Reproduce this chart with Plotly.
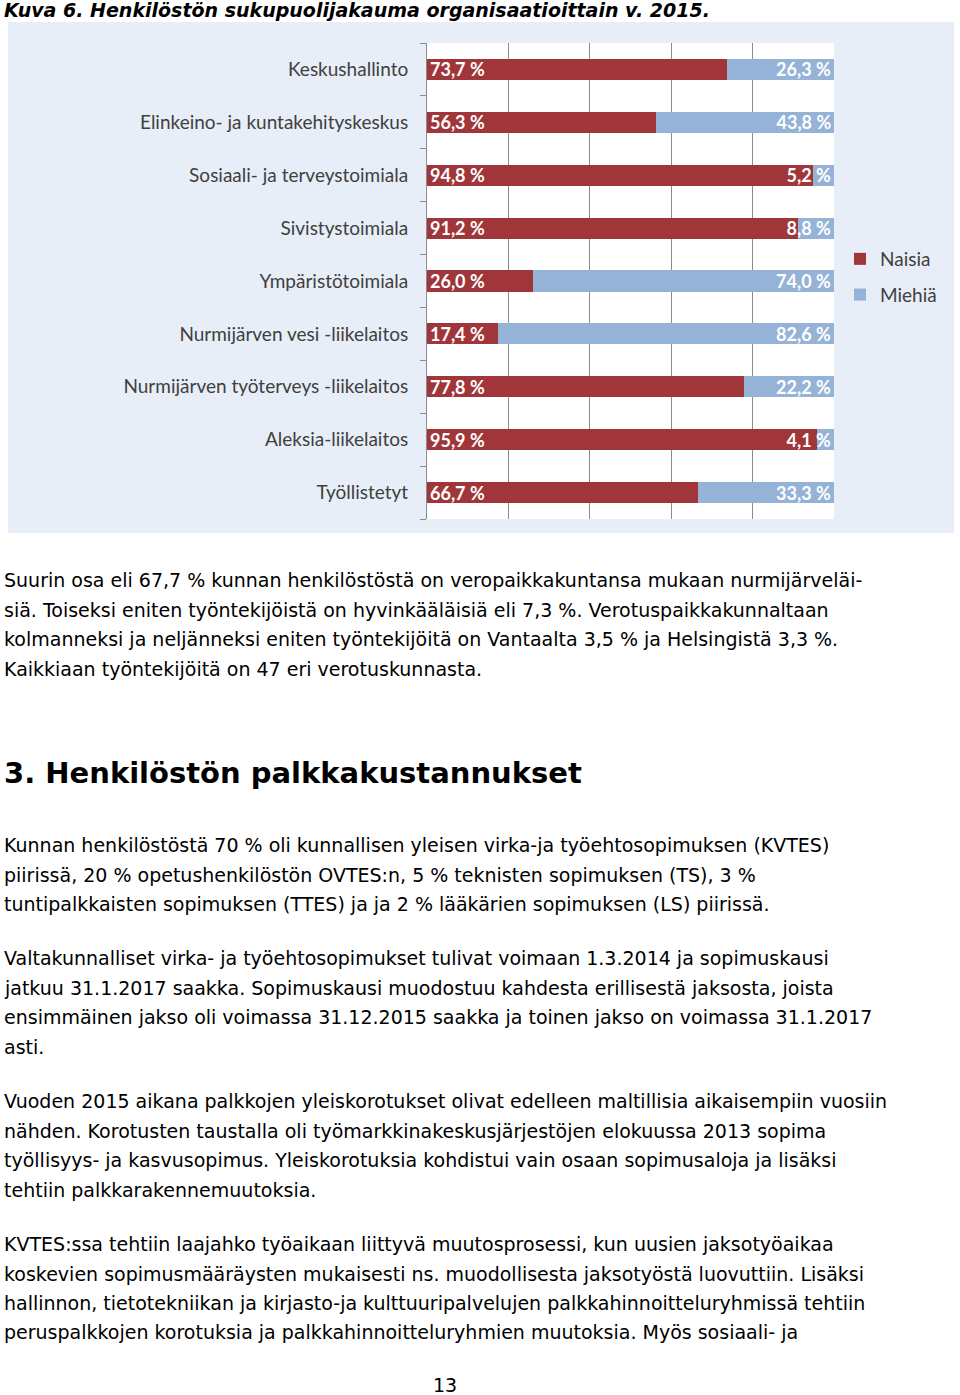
import plotly.graph_objects as go

categories = [
    "Keskushallinto",
    "Elinkeino- ja kuntakehityskeskus",
    "Sosiaali- ja terveystoimiala",
    "Sivistystoimiala",
    "Ympäristötoimiala",
    "Nurmijärven vesi -liikelaitos",
    "Nurmijärven työterveys -liikelaitos",
    "Aleksia-liikelaitos",
    "Työllistetyt",
]
naisia = [73.7, 56.3, 94.8, 91.2, 26.0, 17.4, 77.8, 95.9, 66.7]
miehia = [26.3, 43.8, 5.2, 8.8, 74.0, 82.6, 22.2, 4.1, 33.3]
x_ticks = [0, 20, 40, 60, 80, 100]

title_text = "Kuva 6. Henkilöstön sukupuolijakauma organisaatioittain v. 2015."
para1 = [
    "Suurin osa eli 67,7 % kunnan henkilöstöstä on veropaikkakuntansa mukaan nurmijärveläi-",
    "siä. Toiseksi eniten työntekijöistä on hyvinkääläisiä eli 7,3 %. Verotuspaikkakunnaltaan",
    "kolmanneksi ja neljänneksi eniten työntekijöitä on Vantaalta 3,5 % ja Helsingistä 3,3 %.",
    "Kaikkiaan työntekijöitä on 47 eri verotuskunnasta.",
]
heading = "3. Henkilöstön palkkakustannukset"
para2 = [
    "Kunnan henkilöstöstä 70 % oli kunnallisen yleisen virka-ja työehtosopimuksen (KVTES)",
    "piirissä, 20 % opetushenkilöstön OVTES:n, 5 % teknisten sopimuksen (TS), 3 %",
    "tuntipalkkaisten sopimuksen (TTES) ja ja 2 % lääkärien sopimuksen (LS) piirissä.",
]
para3 = [
    "Valtakunnalliset virka- ja työehtosopimukset tulivat voimaan 1.3.2014 ja sopimuskausi",
    "jatkuu 31.1.2017 saakka. Sopimuskausi muodostuu kahdesta erillisestä jaksosta, joista",
    "ensimmäinen jakso oli voimassa 31.12.2015 saakka ja toinen jakso on voimassa 31.1.2017",
    "asti.",
]
para4 = [
    "Vuoden 2015 aikana palkkojen yleiskorotukset olivat edelleen maltillisia aikaisempiin vuosiin",
    "nähden. Korotusten taustalla oli työmarkkinakeskusjärjestöjen elokuussa 2013 sopima",
    "työllisyys- ja kasvusopimus. Yleiskorotuksia kohdistui vain osaan sopimusaloja ja lisäksi",
    "tehtiin palkkarakennemuutoksia.",
]
para5 = [
    "KVTES:ssa tehtiin laajahko työaikaan liittyvä muutosprosessi, kun uusien jaksotyöaikaa",
    "koskevien sopimusmääräysten mukaisesti ns. muodollisesta jaksotyöstä luovuttiin. Lisäksi",
    "hallinnon, tietotekniikan ja kirjasto-ja kulttuuripalvelujen palkkahinnoitteluryhmissä tehtiin",
    "peruspalkkojen korotuksia ja palkkahinnoitteluryhmien muutoksia. Myös sosiaali- ja",
]
page_number = "13"

W, H = 960, 1395
PL, PR, PT, PB = 427, 834, 43, 519  # plot area in page pixels


def px(xp):
    return (xp - PL) / (PR - PL)


def py(yp):
    return (PB - yp) / (PB - PT)


def fmt(v):
    return f"{v:.1f}".replace(".", ",") + " %"


RED = "#A0363A"
BLUE = "#95B3D7"
LABEL_FONT = "Lato"

fig = go.Figure()
fig.add_trace(go.Bar(
    y=categories, x=naisia, orientation="h", name="Naisia",
    marker=dict(color=RED, line=dict(width=0)), width=0.4,
    text=[fmt(v) for v in naisia], textposition="inside",
    insidetextanchor="start", textangle=0, constraintext="none",
    textfont=dict(family=LABEL_FONT, size=18, color="white", weight="bold"),
    legendgroup="a", hoverinfo="skip",
))
fig.add_trace(go.Bar(
    y=categories, x=miehia, orientation="h", name="Miehiä",
    marker=dict(color=BLUE, line=dict(width=0)), width=0.4,
    text=[fmt(v) for v in miehia], textposition="inside",
    insidetextanchor="end", textangle=0, constraintext="none",
    textfont=dict(family=LABEL_FONT, size=18, color="white", weight="bold"),
    legendgroup="b", hoverinfo="skip",
))
fig.add_trace(go.Scatter(x=[None], y=[None], yaxis="y2", showlegend=False, hoverinfo="skip"))

n = len(categories)
fig.update_layout(
    width=W, height=H,
    margin=dict(l=PL, r=W - PR, t=PT, b=H - PB),
    paper_bgcolor="white", plot_bgcolor="white",
    barmode="stack",
    xaxis=dict(range=[0, 100], tickvals=x_ticks, showticklabels=False,
               showgrid=True, gridcolor="#8C8C8C", gridwidth=1, zeroline=False,
               showline=False, ticks=""),
    yaxis=dict(autorange="reversed", showline=True, linecolor="#8C8C8C", linewidth=1,
               ticks="", showgrid=False, ticklabelstandoff=14,
               tickfont=dict(family=LABEL_FONT, size=19, color="#404040")),
    yaxis2=dict(overlaying="y", side="left", range=[n - 0.5, -0.5],
                tickvals=[i - 0.5 for i in range(n + 1)], showticklabels=False,
                ticks="outside", ticklen=6, tickcolor="#8C8C8C", showgrid=False,
                zeroline=False, showline=False),
    legend=dict(x=px(840), y=py(240), xanchor="left", yanchor="top",
                bgcolor="rgba(0,0,0,0)", traceorder="grouped", tracegroupgap=8,
                font=dict(family=LABEL_FONT, size=19, color="#404040"),
                itemwidth=30),
    showlegend=True,
    shapes=[
        dict(type="rect", xref="paper", yref="paper", x0=px(8), x1=px(954),
             y0=py(533), y1=py(22), fillcolor="#E8EEF7", line=dict(width=0),
             layer="below"),
        dict(type="rect", xref="paper", yref="paper", x0=0, x1=1, y0=0, y1=1,
             fillcolor="white", line=dict(width=0), layer="below"),
    ],
)

BODY = "DejaVu Sans"
TX = px(2)
ann = []
ann.append(dict(text=f"<b><i>{title_text}</i></b>", x=TX, y=py(10),
                font=dict(family=BODY, size=19, color="black")))


def add_lines(lines, y0, step=29.5):
    for i, t in enumerate(lines):
        ann.append(dict(text=t, x=TX, y=py(y0 + i * step),
                        font=dict(family=BODY, size=19, color="black")))


add_lines(para1, 580)
ann.append(dict(text=f"<b>{heading}</b>", x=TX, y=py(773),
                font=dict(family=BODY, size=29, color="black")))
add_lines(para2, 845)
add_lines(para3, 958)
add_lines(para4, 1101)
add_lines(para5, 1244)
for a in ann:
    a.update(xref="paper", yref="paper", xanchor="left", yanchor="middle",
             showarrow=False, align="left")
ann.append(dict(text=page_number, x=px(445), y=py(1385), xref="paper", yref="paper",
                xanchor="center", yanchor="middle", showarrow=False,
                font=dict(family=BODY, size=19, color="black")))
fig.update_layout(annotations=ann)

# remove the browser's default 8px body margin so the page starts at (0, 0)
fig.write_html("out.html", config={"displayModeBar": False},
               post_script="document.body.style.margin='0';")
